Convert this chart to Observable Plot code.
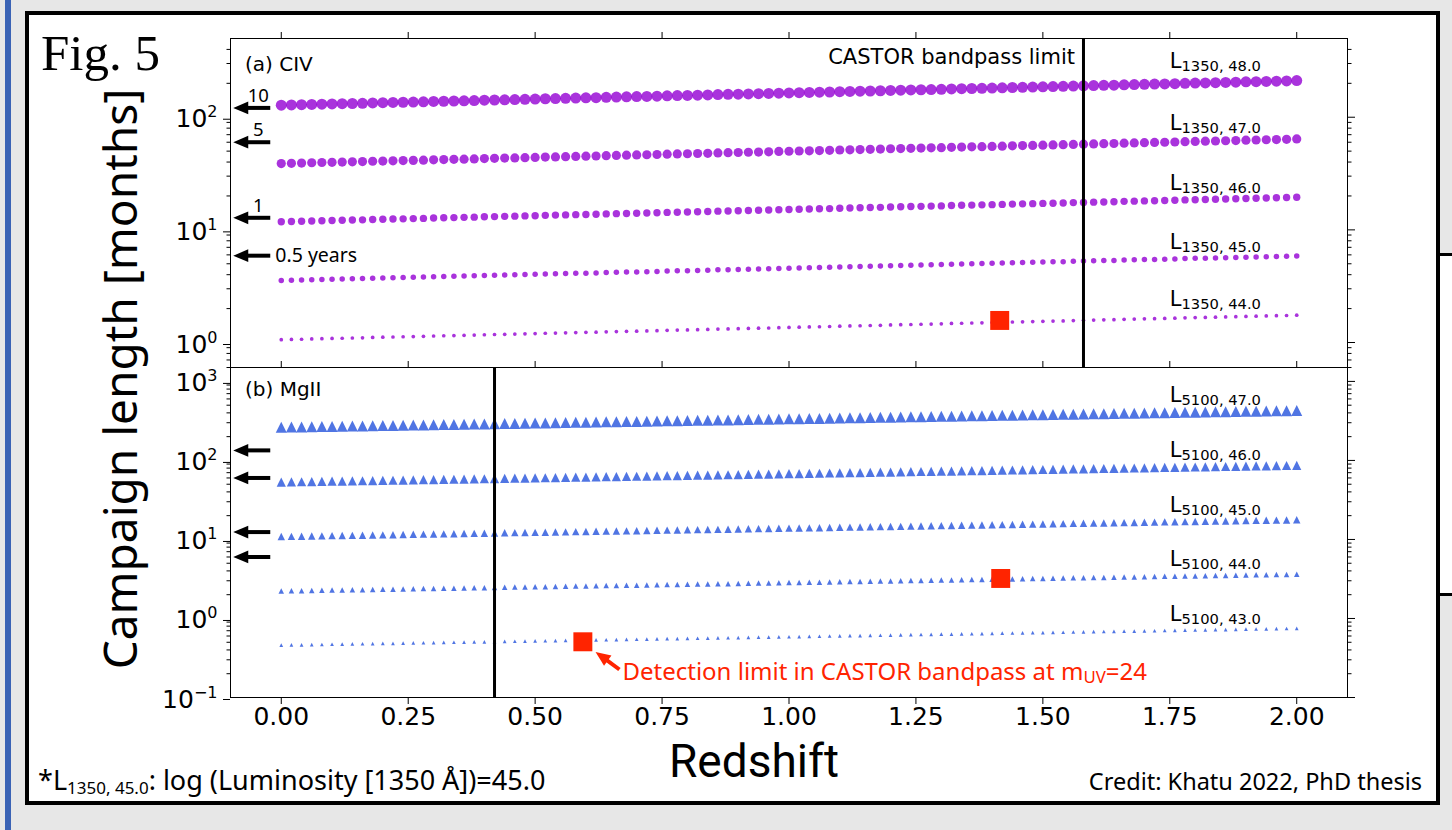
<!DOCTYPE html>
<html><head><meta charset="utf-8">
<script src="https://cdn.jsdelivr.net/npm/d3@7"></script>
<script src="https://cdn.jsdelivr.net/npm/@observablehq/plot@0.6"></script>
<style>
html,body{margin:0;padding:0;width:1452px;height:830px;overflow:hidden;background:#e7e7e7;}
#page{position:relative;width:1452px;height:830px;}
.abs{position:absolute;}
#page svg{max-width:none !important;}
</style></head>
<body><div id="page">
<div class="abs" style="left:5px;top:0;width:6px;height:830px;background:#3a63b5"></div>
<div class="abs" style="left:1437px;top:253px;width:40px;height:343px;border:3px solid #000;background:#fff;box-sizing:border-box"></div>
<div class="abs" style="left:25px;top:11px;width:1415px;height:794px;border:4px solid #000;background:#fff;box-sizing:border-box"></div>
<div id="pa" class="abs" style="left:0;top:0"></div>
<div id="pb" class="abs" style="left:0;top:0"></div>
<svg class="abs" width="1452" height="830" style="left:0;top:0;pointer-events:none">
<text x="41" y="70" font-family="Liberation Serif" font-size="51">Fig. 5</text>
<text transform="translate(137,379) rotate(-90)" text-anchor="middle" font-family="Noto Sans" font-size="46">Campaign length [months]</text>
<text x="754" y="777" text-anchor="middle" font-family="Roboto" font-size="46">Redshift</text>
<text x="38" y="790" font-family="Noto Sans" font-size="27">*L<tspan font-size="17" dy="4">1350, 45.0</tspan><tspan dy="-4">: log (Luminosity [1350 Å])=45.0</tspan></text>
<text x="1422" y="790" text-anchor="end" font-family="Noto Sans" font-size="23.5">Credit: Khatu 2022, PhD thesis</text>
</svg>
</div>
<script>
// ---------------- DATA ----------------
const redshift = [0,0.02,0.04,0.06,0.08,0.1,0.12,0.14,0.16,0.18,
0.2,0.22,0.24,0.26,0.28,0.3,0.32,0.34,0.36,0.38,
0.4,0.42,0.44,0.46,0.48,0.5,0.52,0.54,0.56,0.58,
0.6,0.62,0.64,0.66,0.68,0.7,0.72,0.74,0.76,0.78,
0.8,0.82,0.84,0.86,0.88,0.9,0.92,0.94,0.96,0.98,
1,1.02,1.04,1.06,1.08,1.1,1.12,1.14,1.16,1.18,
1.2,1.22,1.24,1.26,1.28,1.3,1.32,1.34,1.36,1.38,
1.4,1.42,1.44,1.46,1.48,1.5,1.52,1.54,1.56,1.58,
1.6,1.62,1.64,1.66,1.68,1.7,1.72,1.74,1.76,1.78,
1.8,1.82,1.84,1.86,1.88,1.9,1.92,1.94,1.96,1.98,
2];

// (a) CIV campaign length, log10(months), one value per redshift
const civ48 = [2.107,2.109,2.111,2.114,2.116,2.118,2.120,2.122,2.124,2.127,
2.129,2.131,2.133,2.135,2.137,2.140,2.142,2.144,2.146,2.148,
2.151,2.153,2.155,2.157,2.159,2.161,2.164,2.166,2.168,2.170,
2.172,2.174,2.177,2.179,2.181,2.183,2.185,2.187,2.190,2.192,
2.194,2.196,2.198,2.201,2.203,2.205,2.207,2.209,2.211,2.214,
2.216,2.218,2.220,2.222,2.224,2.227,2.229,2.231,2.233,2.235,
2.238,2.240,2.242,2.244,2.246,2.248,2.251,2.253,2.255,2.257,
2.259,2.261,2.264,2.266,2.268,2.270,2.272,2.274,2.277,2.279,
2.281,2.283,2.285,2.288,2.290,2.292,2.294,2.296,2.298,2.301,
2.303,2.305,2.307,2.309,2.311,2.314,2.316,2.318,2.320,2.322,
2.325];
const civ47 = [1.589,1.591,1.593,1.596,1.598,1.600,1.602,1.604,1.606,1.609,
1.611,1.613,1.615,1.617,1.619,1.622,1.624,1.626,1.628,1.630,
1.633,1.635,1.637,1.639,1.641,1.643,1.646,1.648,1.650,1.652,
1.654,1.656,1.659,1.661,1.663,1.665,1.667,1.669,1.672,1.674,
1.676,1.678,1.680,1.683,1.685,1.687,1.689,1.691,1.693,1.696,
1.698,1.700,1.702,1.704,1.706,1.709,1.711,1.713,1.715,1.717,
1.720,1.722,1.724,1.726,1.728,1.730,1.733,1.735,1.737,1.739,
1.741,1.743,1.746,1.748,1.750,1.752,1.754,1.756,1.759,1.761,
1.763,1.765,1.767,1.770,1.772,1.774,1.776,1.778,1.780,1.783,
1.785,1.787,1.789,1.791,1.793,1.796,1.798,1.800,1.802,1.804,
1.807];
const civ46 = [1.072,1.074,1.076,1.079,1.081,1.083,1.085,1.087,1.089,1.092,
1.094,1.096,1.098,1.100,1.102,1.105,1.107,1.109,1.111,1.113,
1.116,1.118,1.120,1.122,1.124,1.126,1.129,1.131,1.133,1.135,
1.137,1.139,1.142,1.144,1.146,1.148,1.150,1.152,1.155,1.157,
1.159,1.161,1.163,1.166,1.168,1.170,1.172,1.174,1.176,1.179,
1.181,1.183,1.185,1.187,1.189,1.192,1.194,1.196,1.198,1.200,
1.203,1.205,1.207,1.209,1.211,1.213,1.216,1.218,1.220,1.222,
1.224,1.226,1.229,1.231,1.233,1.235,1.237,1.239,1.242,1.244,
1.246,1.248,1.250,1.253,1.255,1.257,1.259,1.261,1.263,1.266,
1.268,1.270,1.272,1.274,1.276,1.279,1.281,1.283,1.285,1.287,
1.290];
const civ45 = [0.551,0.553,0.555,0.558,0.560,0.562,0.564,0.566,0.568,0.571,
0.573,0.575,0.577,0.579,0.581,0.584,0.586,0.588,0.590,0.592,
0.595,0.597,0.599,0.601,0.603,0.605,0.608,0.610,0.612,0.614,
0.616,0.618,0.621,0.623,0.625,0.627,0.629,0.631,0.634,0.636,
0.638,0.640,0.642,0.645,0.647,0.649,0.651,0.653,0.655,0.658,
0.660,0.662,0.664,0.666,0.668,0.671,0.673,0.675,0.677,0.679,
0.682,0.684,0.686,0.688,0.690,0.692,0.695,0.697,0.699,0.701,
0.703,0.705,0.708,0.710,0.712,0.714,0.716,0.718,0.721,0.723,
0.725,0.727,0.729,0.732,0.734,0.736,0.738,0.740,0.742,0.745,
0.747,0.749,0.751,0.753,0.755,0.758,0.760,0.762,0.764,0.766,
0.769];
const civ44 = [0.025,0.027,0.029,0.032,0.034,0.036,0.038,0.040,0.042,0.045,
0.047,0.049,0.051,0.053,0.055,0.058,0.060,0.062,0.064,0.066,
0.069,0.071,0.073,0.075,0.077,0.079,0.082,0.084,0.086,0.088,
0.090,0.092,0.095,0.097,0.099,0.101,0.103,0.105,0.108,0.110,
0.112,0.114,0.116,0.119,0.121,0.123,0.125,0.127,0.129,0.132,
0.134,0.136,0.138,0.140,0.142,0.145,0.147,0.149,0.151,0.153,
0.156,0.158,0.160,0.162,0.164,0.166,0.169,0.171,0.173,0.175,
0.177,0.179,0.182,0.184,0.186,0.188,0.190,0.192,0.195,0.197,
0.199,0.201,0.203,0.206,0.208,0.210,0.212,0.214,0.216,0.219,
0.221,0.223,0.225,0.227,0.229,0.232,0.234,0.236,0.238,0.240,
0.243];

// (b) MgII campaign length, log10(months)
const mg47 = [2.420,2.422,2.424,2.426,2.428,2.431,2.433,2.435,2.437,2.439,
2.441,2.443,2.445,2.448,2.450,2.452,2.454,2.456,2.458,2.460,
2.462,2.465,2.467,2.469,2.471,2.473,2.475,2.477,2.479,2.482,
2.484,2.486,2.488,2.490,2.492,2.494,2.496,2.499,2.501,2.503,
2.505,2.507,2.509,2.511,2.513,2.515,2.518,2.520,2.522,2.524,
2.526,2.528,2.530,2.532,2.535,2.537,2.539,2.541,2.543,2.545,
2.547,2.549,2.552,2.554,2.556,2.558,2.560,2.562,2.564,2.566,
2.569,2.571,2.573,2.575,2.577,2.579,2.581,2.583,2.586,2.588,
2.590,2.592,2.594,2.596,2.598,2.600,2.602,2.605,2.607,2.609,
2.611,2.613,2.615,2.617,2.619,2.622,2.624,2.626,2.628,2.630,
2.632];
const mg46 = [1.726,1.728,1.730,1.732,1.734,1.737,1.739,1.741,1.743,1.745,
1.747,1.749,1.751,1.754,1.756,1.758,1.760,1.762,1.764,1.766,
1.768,1.771,1.773,1.775,1.777,1.779,1.781,1.783,1.785,1.788,
1.790,1.792,1.794,1.796,1.798,1.800,1.802,1.805,1.807,1.809,
1.811,1.813,1.815,1.817,1.819,1.821,1.824,1.826,1.828,1.830,
1.832,1.834,1.836,1.838,1.841,1.843,1.845,1.847,1.849,1.851,
1.853,1.855,1.858,1.860,1.862,1.864,1.866,1.868,1.870,1.872,
1.875,1.877,1.879,1.881,1.883,1.885,1.887,1.889,1.892,1.894,
1.896,1.898,1.900,1.902,1.904,1.906,1.908,1.911,1.913,1.915,
1.917,1.919,1.921,1.923,1.925,1.928,1.930,1.932,1.934,1.936,
1.938];
const mg45 = [1.037,1.039,1.041,1.043,1.045,1.048,1.050,1.052,1.054,1.056,
1.058,1.060,1.062,1.065,1.067,1.069,1.071,1.073,1.075,1.077,
1.079,1.082,1.084,1.086,1.088,1.090,1.092,1.094,1.096,1.099,
1.101,1.103,1.105,1.107,1.109,1.111,1.113,1.116,1.118,1.120,
1.122,1.124,1.126,1.128,1.130,1.132,1.135,1.137,1.139,1.141,
1.143,1.145,1.147,1.149,1.152,1.154,1.156,1.158,1.160,1.162,
1.164,1.166,1.169,1.171,1.173,1.175,1.177,1.179,1.181,1.183,
1.186,1.188,1.190,1.192,1.194,1.196,1.198,1.200,1.203,1.205,
1.207,1.209,1.211,1.213,1.215,1.217,1.219,1.222,1.224,1.226,
1.228,1.230,1.232,1.234,1.236,1.239,1.241,1.243,1.245,1.247,
1.249];
const mg44 = [0.348,0.350,0.352,0.354,0.356,0.359,0.361,0.363,0.365,0.367,
0.369,0.371,0.373,0.376,0.378,0.380,0.382,0.384,0.386,0.388,
0.390,0.393,0.395,0.397,0.399,0.401,0.403,0.405,0.407,0.410,
0.412,0.414,0.416,0.418,0.420,0.422,0.424,0.427,0.429,0.431,
0.433,0.435,0.437,0.439,0.441,0.443,0.446,0.448,0.450,0.452,
0.454,0.456,0.458,0.460,0.463,0.465,0.467,0.469,0.471,0.473,
0.475,0.477,0.480,0.482,0.484,0.486,0.488,0.490,0.492,0.494,
0.497,0.499,0.501,0.503,0.505,0.507,0.509,0.511,0.514,0.516,
0.518,0.520,0.522,0.524,0.526,0.528,0.530,0.533,0.535,0.537,
0.539,0.541,0.543,0.545,0.547,0.550,0.552,0.554,0.556,0.558,
0.560];
const mg43 = [-0.337,-0.335,-0.333,-0.331,-0.329,-0.326,-0.324,-0.322,-0.320,-0.318,
-0.316,-0.314,-0.312,-0.309,-0.307,-0.305,-0.303,-0.301,-0.299,-0.297,
-0.295,-0.292,-0.290,-0.288,-0.286,-0.284,-0.282,-0.280,-0.278,-0.275,
-0.273,-0.271,-0.269,-0.267,-0.265,-0.263,-0.261,-0.258,-0.256,-0.254,
-0.252,-0.250,-0.248,-0.246,-0.244,-0.242,-0.239,-0.237,-0.235,-0.233,
-0.231,-0.229,-0.227,-0.225,-0.222,-0.220,-0.218,-0.216,-0.214,-0.212,
-0.210,-0.208,-0.205,-0.203,-0.201,-0.199,-0.197,-0.195,-0.193,-0.191,
-0.188,-0.186,-0.184,-0.182,-0.180,-0.178,-0.176,-0.174,-0.171,-0.169,
-0.167,-0.165,-0.163,-0.161,-0.159,-0.157,-0.155,-0.152,-0.150,-0.148,
-0.146,-0.144,-0.142,-0.140,-0.138,-0.135,-0.133,-0.131,-0.129,-0.127,
-0.125];

const civLabels = ["L_{1350, 48.0}", "L_{1350, 47.0}", "L_{1350, 46.0}", "L_{1350, 45.0}", "L_{1350, 44.0}"];
const mgLabels = ["L_{5100, 47.0}", "L_{5100, 46.0}", "L_{5100, 45.0}", "L_{5100, 44.0}", "L_{5100, 43.0}"];

const xTicks = [0, 0.25, 0.5, 0.75, 1, 1.25, 1.5, 1.75, 2];
const civMajorTicks = [1, 10, 100];
const civMinorTicks = [0.6,0.7,0.8,0.9,2,3,4,5,6,7,8,9,20,30,40,50,60,70,80,90,200,300,400];
const mgMajorTicks = [0.1, 1, 10, 100, 1000];
const mgMinorTicks = [0.2,0.3,0.4,0.5,0.6,0.7,0.8,0.9,2,3,4,5,6,7,8,9,20,30,40,50,60,70,80,90,200,300,400,500,600,700,800,900];

const civBandLimit = [1.58];          // CASTOR bandpass limit (redshift)
const mgBandLimit = [0.42];
const civDetectZ = [1.415], civDetectMonths = [1.57];
const mgDetectZ = [1.417, 0.594], mgDetectMonths = [3.21, 0.507];
const civYearMonths = [121, 60, 12.8, 5.9];   // 10, 5, 1, 0.5 years
const mgYearMonths = [134, 60, 12.4, 6.0];
const yearTexts = ["10", "5", "1"];
const halfYearText = ["0.5 years"];
const noteText = ["Detection limit in CASTOR bandpass at m_{UV}=24"];

// ---------------- HELPERS ----------------
const violet = "darkviolet", blue = "royalblue", red = "#ff2400";
const sizes = [5.5, 4.6, 3.7, 2.75, 1.85];
const mplTriangle = {draw(ctx, size) { const r = Math.sqrt(size / Math.PI); ctx.moveTo(0, -r); ctx.lineTo(r, r); ctx.lineTo(-r, r); ctx.closePath(); }};
const leftHead = {draw(ctx, size) { const r = Math.sqrt(size / Math.PI); ctx.moveTo(-r, 0); ctx.lineTo(r, -0.85 * r); ctx.lineTo(r, 0.85 * r); ctx.closePath(); }};
const rows = (arr) => redshift.map((z, i) => ({z, logMonths: arr[i]}));
const supFmt = (d) => `10^{${String(Math.round(Math.log10(d))).replace("-", "\u2212")}}`;
const blank = () => "";

// annotation anchors (data coordinates)
const labelZ = 1.75;
const civLabelMonths = [275, 77.3, 22.7, 6.8, 2.13];
const mgLabelMonths = [546, 110, 22.1, 4.58, 0.94];
const arrowHeadZ = -0.0798, arrowTailZ = -0.0217, yearTextZ = -0.0453, halfYearZ = -0.0118;
const noteArrowTail = {z: 0.666, months: 0.226}, noteArrowHead = {z: 0.631, months: 0.332};

function axes(major, minor, withXLabels) {
  const m = [
    Plot.axisX({anchor: "top", ticks: xTicks, tickSize: 7, tickFormat: blank, label: null}),
    Plot.axisY({anchor: "left", ticks: major, tickSize: 7, tickPadding: 6, tickFormat: supFmt, fontSize: 25, dy: 2, label: null}),
    Plot.axisY({anchor: "left", ticks: minor, tickSize: 3.5, tickFormat: blank, label: null}),
    Plot.axisY({anchor: "right", ticks: major, tickSize: 7, tickFormat: blank, label: null}),
    Plot.axisY({anchor: "right", ticks: minor, tickSize: 3.5, tickFormat: blank, label: null})
  ];
  if (withXLabels) m.push(Plot.axisX({anchor: "bottom", ticks: xTicks, tickSize: 7, tickPadding: 3, tickFormat: d3.format(".2f"), fontSize: 25, label: null}));
  return m;
}

function yearArrows(months, withText) {
  const m = [
    Plot.link(months, {x1: arrowHeadZ, x2: arrowTailZ, y1: (d) => d, y2: (d) => d, stroke: "black", strokeWidth: 4}),
    Plot.dot(months, {x: arrowHeadZ, y: (d) => d, symbol: leftHead, r: 7.5, fill: "black"})
  ];
  if (withText) {
    m.push(Plot.text(yearTexts, {x: yearTextZ, y: (d, i) => months[i], text: (d) => d, textAnchor: "middle", lineAnchor: "bottom", dy: -6, fontSize: 18.5, fontFamily: "Noto Sans"}));
    m.push(Plot.text(halfYearText, {x: halfYearZ, y: () => months[3], text: (d) => d, textAnchor: "start", fontSize: 19.5, fontFamily: "Noto Sans"}));
  }
  return m;
}

function richify(svg) {
  const NS = "http://www.w3.org/2000/svg";
  for (const t of svg.querySelectorAll("text")) {
    const s = t.textContent;
    if (!/[_^]\{/.test(s)) continue;
    const g = t.closest("[font-size]");
    const base = g ? parseFloat(g.getAttribute("font-size")) : 20;
    while (t.firstChild) t.removeChild(t.firstChild);
    const re = /([_^])\{([^}]*)\}|([^_^]+)/g;
    let m, shift = 0;
    while ((m = re.exec(s))) {
      const ts = document.createElementNS(NS, "tspan");
      let target = 0;
      if (m[3] !== undefined) { ts.textContent = m[3]; }
      else {
        const sub = m[1] === "_";
        target = sub ? 0.15 * base : -0.4 * base;
        ts.textContent = m[2];
        ts.setAttribute("font-size", (sub ? 0.7 : 0.64) * base);
      }
      ts.setAttribute("dy", target - shift);
      shift = target;
      t.appendChild(ts);
    }
  }
  return svg;
}

const common = {
  width: 1452,
  marginLeft: 230, marginRight: 105,
  style: {background: "transparent", fontFamily: "DejaVu Sans", overflow: "visible", color: "black"},
  x: {domain: [-0.1, 2.1]}
};

// ---------------- PANEL (a) CIV ----------------
const civSeries = [civ48, civ47, civ46, civ45, civ44];
const plotA = Plot.plot({
  ...common,
  height: 380, marginTop: 38, marginBottom: 13,
  y: {type: "log", domain: [0.6, 500]},
  marks: [
    ...axes(civMajorTicks, civMinorTicks, false),
    ...civSeries.map((s, k) => Plot.dot(rows(s), {x: "z", y: (d) => 10 ** d.logMonths, r: sizes[k], fill: violet, fillOpacity: 0.8})),
    Plot.text(civLabels, {x: labelZ, y: (d, i) => civLabelMonths[i], text: (d) => d, textAnchor: "start", lineAnchor: "bottom", fontSize: 21}),
    Plot.ruleX(civBandLimit, {stroke: "black", strokeWidth: 3}),
    Plot.text(civBandLimit, {x: (d) => d, frameAnchor: "top", text: () => "CASTOR bandpass limit", textAnchor: "end", lineAnchor: "bottom", dx: -8.5, dy: 25.3, fontSize: 21}),
    Plot.dot(civDetectZ, {x: (d) => d, y: (d, i) => civDetectMonths[i], symbol: "square", r: 10.7, fill: red}),
    ...yearArrows(civYearMonths, true),
    Plot.text(["(a) CIV"], {frameAnchor: "top-left", text: (d) => d, textAnchor: "start", lineAnchor: "bottom", dx: 14.5, dy: 32.7, fontSize: 20}),
    Plot.frame({stroke: "black", strokeWidth: 1})
  ]
});
document.getElementById("pa").appendChild(richify(plotA));

// ---------------- PANEL (b) MgII ----------------
const mgSeries = [mg47, mg46, mg45, mg44, mg43];
const plotB = Plot.plot({
  ...common,
  height: 830, marginTop: 367, marginBottom: 133,
  y: {type: "log", domain: [0.1, 1500]},
  marks: [
    ...axes(mgMajorTicks, mgMinorTicks, true),
    ...mgSeries.map((s, k) => Plot.dot(rows(s), {x: "z", y: (d) => 10 ** d.logMonths, r: sizes[k], symbol: mplTriangle, fill: blue, fillOpacity: 0.92})),
    Plot.text(mgLabels, {x: labelZ, y: (d, i) => mgLabelMonths[i], text: (d) => d, textAnchor: "start", lineAnchor: "bottom", fontSize: 21}),
    Plot.ruleX(mgBandLimit, {stroke: "black", strokeWidth: 3}),
    Plot.dot(mgDetectZ, {x: (d) => d, y: (d, i) => mgDetectMonths[i], symbol: "square", r: 10.7, fill: red}),
    Plot.link([noteArrowTail], {x1: "z", y1: "months", x2: noteArrowHead.z, y2: noteArrowHead.months, stroke: red, strokeWidth: 4}),
    Plot.dot([noteArrowHead], {x: "z", y: "months", symbol: leftHead, r: 7.5, rotate: 35.5, fill: red}),
    Plot.text(noteText, {x: 0.672, y: 0.1675, text: (d) => d, textAnchor: "start", lineAnchor: "bottom", fontSize: 24, fontFamily: "Noto Sans", fill: red}),
    ...yearArrows(mgYearMonths, false),
    Plot.text(["(b) MgII"], {frameAnchor: "top-left", text: (d) => d, textAnchor: "start", lineAnchor: "bottom", dx: 14.5, dy: 28, fontSize: 20}),
    Plot.frame({stroke: "black", strokeWidth: 1})
  ]
});
document.getElementById("pb").appendChild(richify(plotB));
</script>
</body></html>
